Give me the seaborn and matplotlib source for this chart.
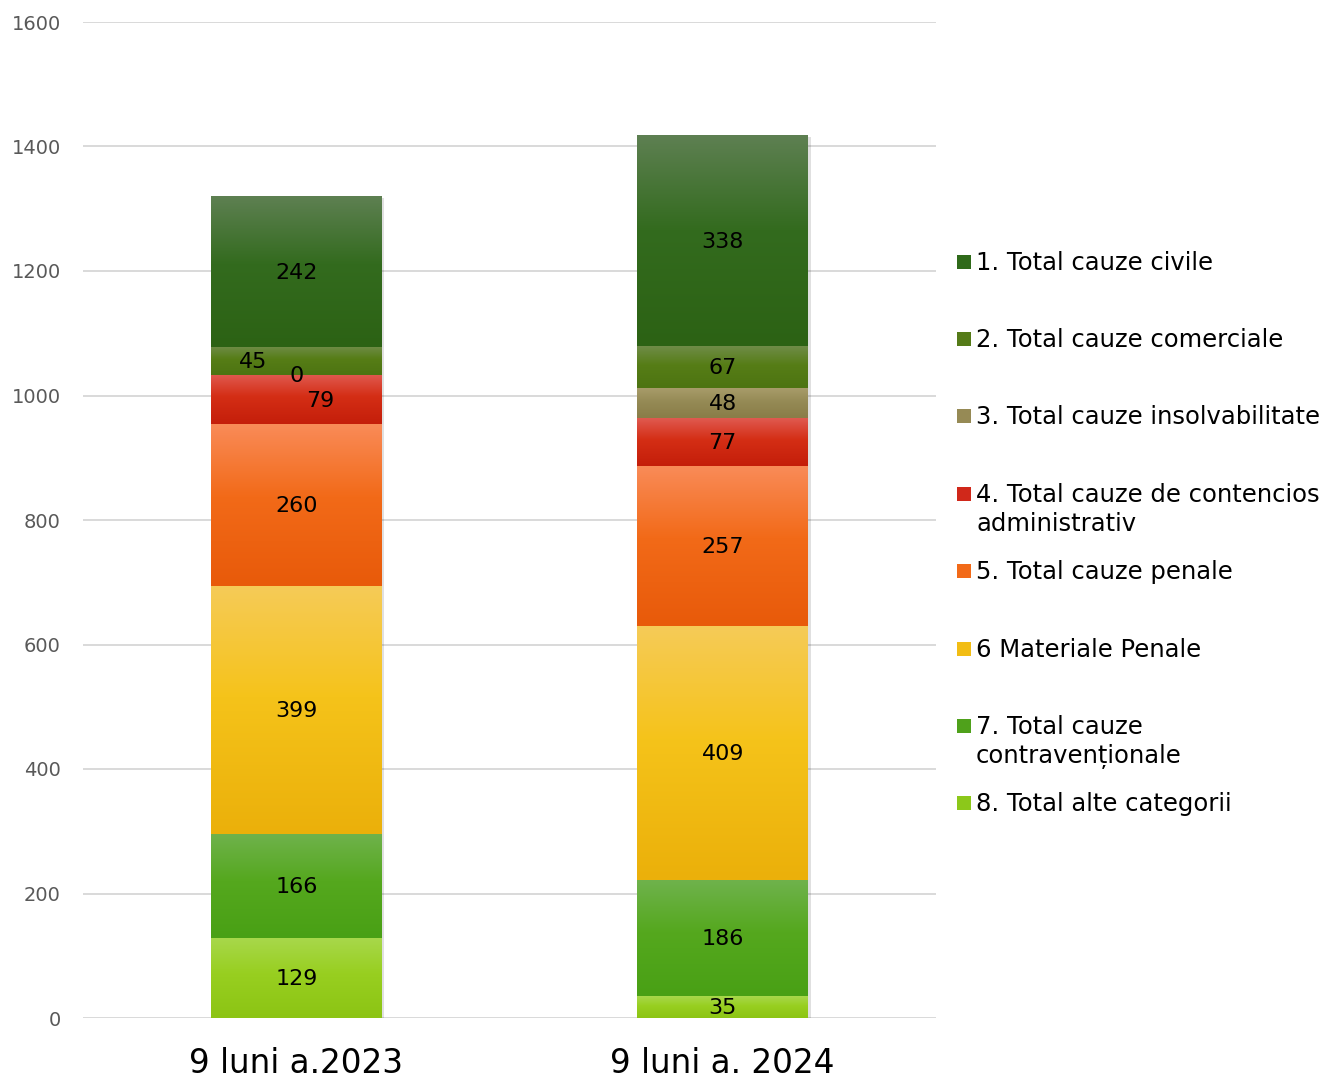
import numpy as np
import pandas as pd
import matplotlib
matplotlib.use("Agg")
import matplotlib.pyplot as plt
import matplotlib.patheffects as pe
from matplotlib.colors import LinearSegmentedColormap
from matplotlib.patches import Rectangle
import seaborn as sns

# ---------------- data ----------------
periods = ["9 luni a.2023", "9 luni a. 2024"]
series = [
    "8. Total alte categorii",
    "7. Total cauze\ncontravenționale",
    "6 Materiale Penale",
    "5. Total cauze penale",
    "4. Total cauze de contencios\nadministrativ",
    "3. Total cauze insolvabilitate",
    "2. Total cauze comerciale",
    "1. Total cauze civile",
]
values_2023 = [129, 166, 399, 260, 79, 0, 45, 242]
values_2024 = [35, 186, 409, 257, 77, 48, 67, 338]
y_ticks = [0, 200, 400, 600, 800, 1000, 1200, 1400, 1600]

# gradient colours (top, middle, bottom) per series
grad_colors = [
    ("#a8d84c", "#98cf20", "#8cc414"),
    ("#6fb24c", "#55a81e", "#49a015"),
    ("#f6cb58", "#f5c31a", "#ebb00a"),
    ("#f98b58", "#f26a18", "#e85a0a"),
    ("#e05a50", "#d42e15", "#c41e0a"),
    ("#a89c6a", "#958a55", "#8a7d48"),
    ("#6f8c48", "#567d16", "#4d7412"),
    ("#5e8052", "#336b1e", "#2c6214"),
]
legend_colors = ["#8cc81a", "#4fa11b", "#f2bd14", "#f26a18", "#d0281a",
                 "#968a55", "#557b18", "#2f6a1a"]

label_offsets = {(0, 6): -43, (0, 4): 24}  # pixel x offsets for crowded labels

# ---------------- figure ----------------
sns.set_theme(style="white")
plt.rcParams["font.family"] = ["DejaVu Sans"]

W, H = 1330, 1081
fig = plt.figure(figsize=(W / 100, H / 100), dpi=100)
ax = fig.add_axes([83 / W, 1 - 1018 / H, (936 - 83) / W, (1018 - 22) / H])

data = np.array([values_2023, values_2024])  # shape (periods, series)
cum = np.cumsum(data, axis=1)
bar_w = 0.40

# draw from the top layer down so that each cumulative bar covers the part beneath
for k in range(len(series) - 1, -1, -1):
    df = pd.DataFrame({"period": periods, "value": cum[:, k]})
    sns.barplot(data=df, x="period", y="value", color=grad_colors[k][1],
                width=bar_w, ax=ax, zorder=2, linewidth=0, saturation=1)

# soft shadow on the full stacks (first drawn patches = totals)
for p in ax.patches[:len(periods)]:
    p.set_path_effects([pe.SimplePatchShadow(offset=(2, -1), shadow_rgbFace="#000000",
                                             alpha=0.12), pe.Normal()])

# gradient overlays for each visible segment
grad = np.linspace(0, 1, 256).reshape(-1, 1)
for k in range(len(series)):
    cmap = LinearSegmentedColormap.from_list(
        f"g{k}", [(0, grad_colors[k][0]), (0.45, grad_colors[k][1]), (1, grad_colors[k][2])])
    for i in range(len(periods)):
        v = data[i, k]
        if v <= 0:
            continue
        bottom = cum[i, k] - v
        top = cum[i, k]
        ax.imshow(grad, cmap=cmap, aspect="auto", origin="upper",
                  extent=(i - bar_w / 2, i + bar_w / 2, bottom, top),
                  zorder=3, interpolation="bilinear")

# data labels
for i in range(len(periods)):
    for k in range(len(series)):
        v = data[i, k]
        yc = cum[i, k] - v / 2
        dx = label_offsets.get((i, k), 0)
        ax.annotate(str(v), xy=(i, yc), xytext=(dx, -1), textcoords="offset pixels",
                    ha="center", va="center", fontsize=16, color="black", zorder=5)

ax.set_xlim(-0.5, 1.5)
ax.set_ylim(0, 1600)
ax.set_yticks(y_ticks)
ax.set_yticklabels([str(t) for t in y_ticks], fontsize=14, color="#595959")
ax.tick_params(axis="y", length=0, pad=16)
ax.tick_params(axis="x", length=0, pad=21, labelsize=23.5, labelcolor="black")
ax.set_xlabel("")
ax.set_ylabel("")
ax.grid(axis="y", color="#d9d9d9", linewidth=1.4, zorder=0)
ax.set_axisbelow(True)
for s in ax.spines.values():
    s.set_visible(False)

# legend (order: 1 at top)
legend_y = [262, 339, 416, 494, 571, 649, 726, 803]
for j, k in enumerate(range(len(series) - 1, -1, -1)):
    y = legend_y[j]
    fig.patches.append(Rectangle((957 / W, 1 - (y + 7) / H), 14 / W, 14 / H,
                                 transform=fig.transFigure, facecolor=legend_colors[k],
                                 edgecolor="none"))
    fig.text(976 / W, 1 - (y - 11) / H, series[k], ha="left", va="top",
             fontsize=17.5, color="black", linespacing=1.27)

fig.savefig("out.png", dpi=100, facecolor="white")
